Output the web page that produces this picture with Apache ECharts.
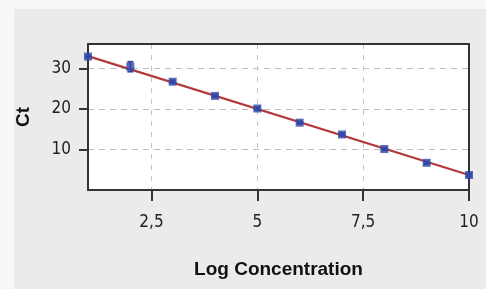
<!DOCTYPE html>
<html><head><meta charset="utf-8">
<script src="https://cdn.jsdelivr.net/npm/echarts@6/dist/echarts.min.js"></script>
<style>html,body{margin:0;padding:0;background:#f8f8f8}#c{width:486px;height:289px}</style>
</head><body><div id="c"></div>
<script>
const concX = [1, 2, 3, 4, 5, 6, 7, 8, 9, 10];
const ctY = [32.9, 30.4, 26.7, 23.2, 20.1, 16.6, 13.7, 10.1, 6.7, 3.7];
const ctErr = [0, 1.2, 0.3, 0.3, 0.3, 0.3, 0.3, 0.3, 0.3, 0.3];
const fitX = [1, 10];
const fitY = [33.0, 3.7];
const xTicks = [2.5, 5, 7.5, 10];
const yTicks = [10, 20, 30];

const chart = echarts.init(document.getElementById('c'));
const lbl = {color:'#222', fontFamily:'DejaVu Sans Condensed', fontSize:17};
const border = {show:true, onZero:false, lineStyle:{color:'#333', width:2}};
const nameStyle = {color:'#111', fontFamily:'Liberation Sans', fontWeight:'bold', fontSize:19};
chart.setOption({
  backgroundColor:'#f8f8f8',
  animation:false,
  graphic:[{type:'rect', z:-10, shape:{x:14,y:9,width:472,height:280}, style:{fill:'#ebebeb'}}],
  grid:{left:88, right:17, top:44, bottom:99, show:true, backgroundColor:'#fff', borderWidth:0},
  xAxis:[{type:'value', min:1, max:10,
    name:'Log Concentration', nameLocation:'middle', nameGap:70, nameTextStyle:nameStyle,
    axisLine:border,
    axisTick:{show:true, length:11, inside:false, customValues:xTicks, lineStyle:{color:'#333', width:2}},
    axisLabel:{...lbl, margin:24, customValues:xTicks, formatter:v=>String(v).replace('.',',')},
    splitLine:{show:true, lineStyle:{color:'#c4c4c4', type:[5,6], width:1}}
  },{type:'value', min:1, max:10, position:'top', axisLine:border, axisTick:{show:false}, axisLabel:{show:false}, splitLine:{show:false}}],
  yAxis:[{type:'value', min:0, max:36,
    name:'Ct', nameLocation:'middle', nameGap:55, nameRotate:90, nameTextStyle:nameStyle,
    axisLine:border,
    axisTick:{show:true, length:9, customValues:yTicks, lineStyle:{color:'#333', width:2}},
    axisLabel:{...lbl, margin:17, customValues:yTicks},
    splitLine:{show:true, lineStyle:{color:'#bdbdbd', type:[6,5], width:1.2}}
  },{type:'value', min:0, max:36, position:'right', axisLine:border, axisTick:{show:false}, axisLabel:{show:false}, splitLine:{show:false}}],
  series:[
    {type:'line', data:fitX.map((x,i)=>[x,fitY[i]]), showSymbol:false, lineStyle:{color:'#b33a3a', width:2.2}, z:2},
    {type:'custom', z:3, data:concX.map((x,i)=>[x,ctY[i]-ctErr[i],ctY[i]+ctErr[i]]),
      renderItem:(p,api)=>{
        const lo=api.coord([api.value(0),api.value(1)]), hi=api.coord([api.value(0),api.value(2)]);
        const st={stroke:'#2f47a8', lineWidth:2};
        return {type:'group', children:[
          {type:'line', shape:{x1:lo[0],y1:lo[1],x2:hi[0],y2:hi[1]}, style:st},
          {type:'line', shape:{x1:lo[0]-3,y1:lo[1],x2:lo[0]+3,y2:lo[1]}, style:st},
          {type:'line', shape:{x1:hi[0]-3,y1:hi[1],x2:hi[0]+3,y2:hi[1]}, style:st}
        ]};
      }},
    {type:'scatter', data:concX.map((x,i)=>[x,ctY[i]]), symbol:'rect', symbolSize:8, itemStyle:{color:'#2f47a8'}, z:4}
  ]
});
</script></body></html>
